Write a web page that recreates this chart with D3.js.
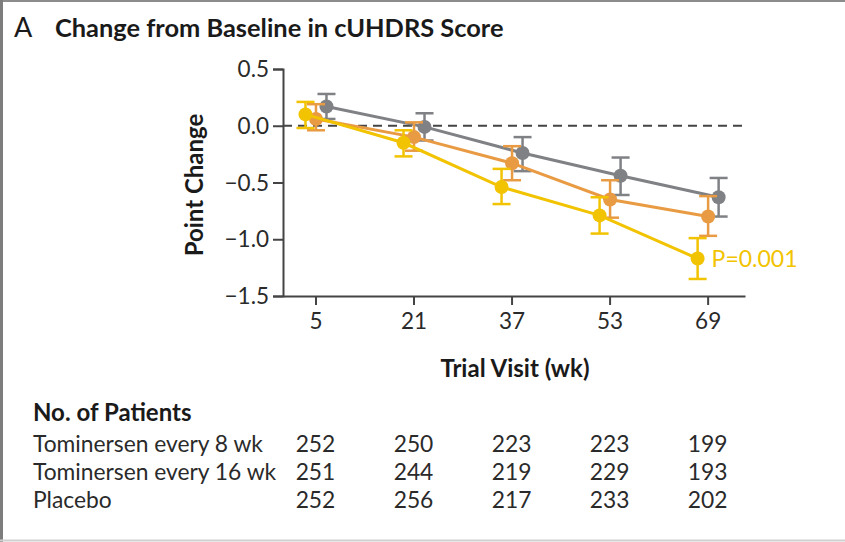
<!DOCTYPE html>
<html><head><meta charset="utf-8">
<script src="https://cdn.jsdelivr.net/npm/d3@7"></script>
<style>
html,body{margin:0;padding:0;background:#fff;}
svg text{font-family:Lato,"Noto Sans",sans-serif;}
</style></head>
<body><svg id="c" width="845" height="542"></svg>
<script>
// ---- data ----
const weeks = [5, 21, 37, 53, 69];
const seriesNames = ["Tominersen every 8 wk", "Tominersen every 16 wk", "Placebo"];
const mean8  = [0.10, -0.15, -0.54, -0.79, -1.17];
const lo8    = [-0.02, -0.27, -0.69, -0.95, -1.35];
const hi8    = [0.21, -0.04, -0.38, -0.63, -0.99];
const mean16 = [0.06, -0.10, -0.33, -0.65, -0.80];
const lo16   = [-0.04, -0.22, -0.48, -0.81, -0.97];
const hi16   = [0.19, 0.03, -0.18, -0.48, -0.62];
const meanP  = [0.17, -0.01, -0.24, -0.44, -0.63];
const loP    = [0.06, -0.13, -0.40, -0.61, -0.80];
const hiP    = [0.28, 0.11, -0.10, -0.28, -0.46];
const yTicks = [0.5, 0.0, -0.5, -1.0, -1.5];
const n8  = [252, 250, 223, 223, 199];
const n16 = [251, 244, 219, 229, 193];
const nP  = [252, 256, 217, 233, 202];
const pLabel = "P=0.001";

const colors = ["#F2C300", "#E99B43", "#7F8185"];
const dodge = [-10, 0.5, 11];

const svg = d3.select("#c");

// frame
svg.append("line").attr("x1",0).attr("x2",845).attr("y1",1).attr("y2",1).attr("stroke","#8c8c8c").attr("stroke-width",2);
svg.append("line").attr("x1",1.5).attr("x2",1.5).attr("y1",0).attr("y2",542).attr("stroke","#7d7d7d").attr("stroke-width",3);
svg.append("line").attr("x1",0).attr("x2",845).attr("y1",540.5).attr("y2",540.5).attr("stroke","#d0d0d0").attr("stroke-width",2);

// title
svg.append("text").attr("x",14).attr("y",37).attr("font-size",27).attr("font-weight",400).attr("fill","#1a1a1a").text("A");
svg.append("text").attr("x",55).attr("y",37).attr("font-size",25.4).attr("font-weight",700).attr("fill","#1a1a1a").text("Change from Baseline in cUHDRS Score");

const x = d3.scaleLinear().domain([-0.3, 75.1]).range([283, 745]);
const y = d3.scaleLinear().domain([-1.5, 0.5]).range([296, 69]);

// y axis
const yAx = svg.append("g").attr("transform","translate(283,0)")
  .call(d3.axisLeft(y).tickValues(yTicks).tickSize(10).tickPadding(4)
    .tickFormat(d => d3.format(".1f")(d).replace("-", "\u2212")));
yAx.select(".domain").attr("stroke","#444").attr("stroke-width",2);
yAx.selectAll(".tick line").attr("stroke","#444").attr("stroke-width",2);
yAx.selectAll(".tick text").attr("font-size",22.5).attr("fill","#2a2a2a").attr("dy","0.34em");

// x axis
const xAx = svg.append("g").attr("transform","translate(0,296)")
  .call(d3.axisBottom(x).tickValues(weeks).tickSize(9).tickPadding(8).tickSizeOuter(0));
xAx.select(".domain").attr("stroke","#444").attr("stroke-width",2);
xAx.selectAll(".tick line").attr("stroke","#444").attr("stroke-width",2);
xAx.selectAll(".tick text").attr("font-size",22.5).attr("fill","#2a2a2a");

// zero dashed line
svg.append("line").attr("x1",x(-0.3)).attr("x2",x(75.1)).attr("y1",y(0)).attr("y2",y(0))
  .attr("stroke","#444").attr("stroke-width",2).attr("stroke-dasharray","9,6");

// axis titles
svg.append("text").attr("transform","translate(203,185) rotate(-90)").attr("text-anchor","middle")
  .attr("font-size",24).attr("font-weight",700).attr("fill","#1a1a1a").text("Point Change");
svg.append("text").attr("x",515).attr("y",377).attr("text-anchor","middle")
  .attr("font-size",24).attr("font-weight",700).attr("fill","#1a1a1a").text("Trial Visit (wk)");

// series (draw placebo first, then 16wk, then 8wk on top)
const series = [
  {mean: mean8, lo: lo8, hi: hi8},
  {mean: mean16, lo: lo16, hi: hi16},
  {mean: meanP, lo: loP, hi: hiP}
];
const order = [2, 1, 0];
order.forEach(i => {
  const s = series[i];
  const pts = weeks.map((w, k) => ({w, m: s.mean[k], lo: s.lo[k], hi: s.hi[k]}));
  const g = svg.append("g");
  const cx = d => x(d.w) + dodge[i];
  g.append("path").datum(pts)
    .attr("d", d3.line().x(cx).y(d => y(d.m)))
    .attr("fill","none").attr("stroke",colors[i]).attr("stroke-width",3);
  const eb = g.selectAll(".eb").data(pts).enter().append("g");
  eb.append("line").attr("x1",cx).attr("x2",cx).attr("y1",d=>y(d.lo)).attr("y2",d=>y(d.hi))
    .attr("stroke",colors[i]).attr("stroke-width",2.5);
  [ "lo", "hi" ].forEach(key => {
    eb.append("line").attr("x1",d=>cx(d)-9).attr("x2",d=>cx(d)+9)
      .attr("y1",d=>y(d[key])).attr("y2",d=>y(d[key]))
      .attr("stroke",colors[i]).attr("stroke-width",2.5);
  });
  eb.append("circle").attr("cx",cx).attr("cy",d=>y(d.m)).attr("r",7).attr("fill",colors[i]);
});

// P label
svg.append("text").attr("x", x(weeks[4]) + dodge[0] + 14).attr("y", y(mean8[4]) + 8)
  .attr("font-size",23).attr("fill",colors[0]).text(pLabel);

// patients table
svg.append("text").attr("x",33).attr("y",421).attr("font-size",24).attr("font-weight",700).attr("fill","#1a1a1a").text("No. of Patients");
const counts = [n8, n16, nP];
const rowY = [452, 480, 508];
seriesNames.forEach((name, r) => {
  svg.append("text").attr("x",33).attr("y",rowY[r]).attr("font-size",22.8).attr("fill","#2a2a2a").text(name);
  svg.selectAll(null).data(counts[r]).enter().append("text")
    .attr("x",(d,k)=>x(weeks[k])).attr("y",rowY[r]).attr("text-anchor","middle")
    .attr("font-size",22.8).attr("fill","#2a2a2a").text(d=>d);
});
</script></body></html>
